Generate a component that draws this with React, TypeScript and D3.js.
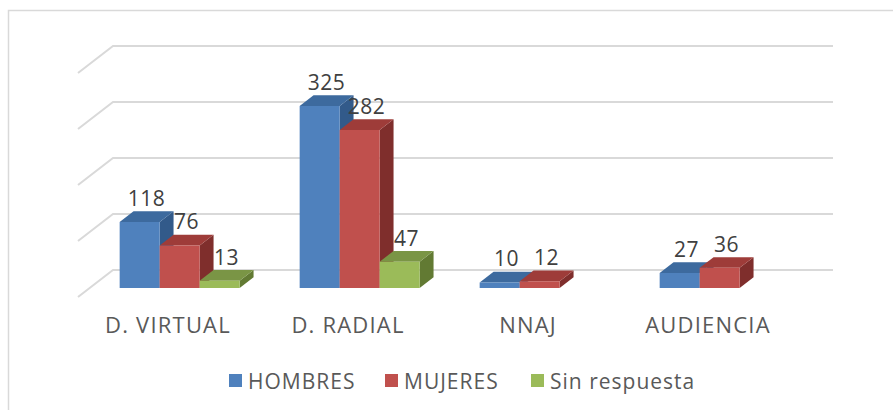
import React from "react";
import * as d3 from "d3";

const categories = ["D. VIRTUAL", "D. RADIAL", "NNAJ", "AUDIENCIA"];
const seriesNames = ["HOMBRES", "MUJERES", "Sin respuesta"];
const hombres = [118, 325, 10, 27];
const mujeres = [76, 282, 12, 36];
const sinRespuesta: (number | null)[] = [13, 47, null, null];
const gridValues = [0, 100, 200, 300, 400];

const frontColors = ["#4F81BD", "#C0504D", "#9BBB59"];
const topColors = ["#3D6A9E", "#9E3C39", "#7A9545"];
const sideColors = ["#325A8A", "#7F2E2C", "#627A33"];

const W = 893;
const H = 410;
const font = "'Open Sans', sans-serif";
const textColor = "#595959";

// oblique depth of the floor: back wall -> front edge
const depthX = -35;
const depthY = 27;
const barFrontZ = 2 / 3;
const barBackZ = 0.27;

const x0 = d3.scaleBand<string>().domain(categories).range([113, 833]);
const x1 = d3.scaleBand<string>().domain(seriesNames).range([30, 150]);
const y = d3.scaleLinear().domain([0, 400]).range([270, 46]);

const proj = (x: number, v: number, z: number): [number, number] => [
  x + depthX * z,
  y(v) + depthY * z,
];

const poly = (pts: [number, number][]) => pts.map((p) => p.join(",")).join(" ");

const App = () => {
  const allSeries = [hombres, mujeres, sinRespuesta];

  const bars: JSX.Element[] = [];
  const labels: JSX.Element[] = [];
  categories.forEach((cat, ci) => {
    seriesNames.forEach((s, si) => {
      const v = allSeries[si][ci];
      if (v == null) return;
      const xl = x0(cat)! + x1(s)!;
      const xr = xl + x1.bandwidth();
      const fz = barFrontZ;
      const bz = barBackZ;
      const front = [proj(xl, v, fz), proj(xr, v, fz), proj(xr, 0, fz), proj(xl, 0, fz)] as [number, number][];
      const top = [proj(xl, v, fz), proj(xl, v, bz), proj(xr, v, bz), proj(xr, v, fz)] as [number, number][];
      const side = [proj(xr, v, fz), proj(xr, v, bz), proj(xr, 0, bz), proj(xr, 0, fz)] as [number, number][];
      bars.push(
        <g key={`${cat}-${s}`}>
          <polygon points={poly(side)} fill={sideColors[si]} />
          <polygon points={poly(top)} fill={topColors[si]} />
          <polygon points={poly(front)} fill={frontColors[si]} />
        </g>
      );
      const [lx] = proj((xl + xr) / 2, v, (fz + bz) / 2);
      const [, ly] = proj(xl, v, fz);
      labels.push(
        <text
          key={`l-${cat}-${s}`}
          x={lx}
          y={ly - 16}
          textAnchor="middle"
          fontSize={21}
          letterSpacing={0.5}
          fill="#404040"
        >
          {v}
        </text>
      );
    });
  });

  const xStart = x0.range()[0];
  const xEnd = x0.range()[1];

  const legendItems = [
    { name: seriesNames[0], x: 229 },
    { name: seriesNames[1], x: 385 },
    { name: seriesNames[2], x: 531 },
  ];

  return (
    <svg
      width={W}
      height={H}
      style={{ position: "absolute", left: 0, top: 0, background: "#fff" }}
      fontFamily={font}
    >
      <rect x={0} y={0} width={W} height={H} fill="#fff" />
      <rect x={8.5} y={10.5} width={W + 10} height={H + 10} fill="none" stroke="#D9D9D9" strokeWidth={1.5} />

      <g stroke="#D9D9D9" strokeWidth={2} fill="none">
        {gridValues.map((g) => {
          const a = proj(xStart, g, 1);
          const b = proj(xStart, g, 0);
          const c = proj(xEnd, g, 0);
          return <polyline key={g} points={poly([a, b, c])} />;
        })}
      </g>

      {bars}
      {labels}

      <g fontSize={22} fill={textColor} textAnchor="middle" letterSpacing={1.2}>
        {categories.map((c) => (
          <text key={c} x={x0(c)! + x0.bandwidth() / 2 + depthX} y={333}>
            {c}
          </text>
        ))}
      </g>

      <g fontSize={21} fill={textColor} letterSpacing={1}>
        {legendItems.map((d, i) => (
          <g key={d.name}>
            <rect x={d.x} y={374} width={13} height={13} fill={frontColors[i]} />
            <text x={d.x + 19} y={389}>
              {d.name}
            </text>
          </g>
        ))}
      </g>
    </svg>
  );
};

export default App;
